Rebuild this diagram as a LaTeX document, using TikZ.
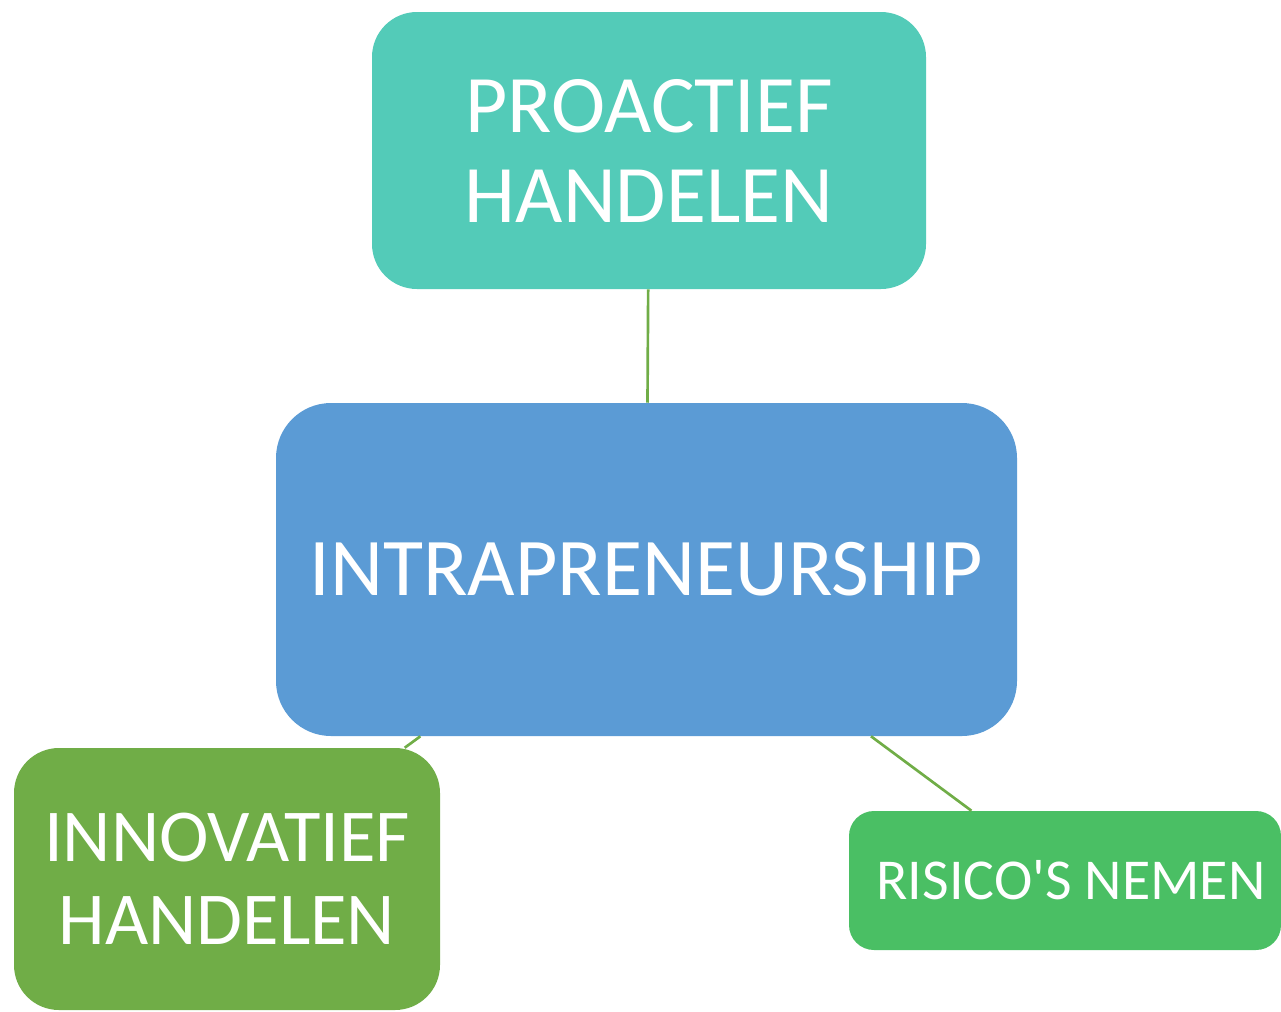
\documentclass[tikz,border=0pt]{standalone}
\usepackage{fontspec}
\setmainfont{Carlito}[Ligatures=TeXOff]
\usepackage{xcolor}
\definecolor{proteal}{HTML}{53CBB8}
\definecolor{midblue}{HTML}{5B9BD5}
\definecolor{innogreen}{HTML}{70AD47}
\definecolor{riskgreen}{HTML}{4ABF64}

\begin{document}
\begin{tikzpicture}[x=0.75pt,y=-0.75pt,
  box/.style={rectangle,text=white,align=center,inner sep=0pt},
  link/.style={draw=innogreen,line width=2pt}]
\useasboundingbox (0,0) rectangle (1281,1011);
% top
\node[box,fill=proteal,minimum width=415.5pt,minimum height=207.75pt,
      rounded corners=33.75pt,font=\fontsize{61.3}{67.5}\selectfont]
  (proactief) at (649,150.5) {PROACTIEF\\HANDELEN};
% middle
\node[box,fill=midblue,minimum width=555.75pt,minimum height=249.75pt,
      rounded corners=41.25pt,font=\fontsize{61.5}{70}\selectfont]
  (intra) at (646.5,569.5) {INTRAPRENEURSHIP};
% left
\node[box,fill=innogreen,minimum width=319.5pt,minimum height=196.5pt,
      rounded corners=33.75pt,font=\fontsize{56}{62}\selectfont]
  (innovatief) at (227,879) {INNOVATIEF\\HANDELEN};
% right
\node[box,fill=riskgreen,minimum width=324pt,minimum height=104.25pt,
      rounded corners=18.75pt,font=\fontsize{43.4}{52}\selectfont]
  (risico) at (1065,880.5) {\hspace*{9pt}RISICO'S NEMEN};
% links
\draw[link] (proactief) -- (intra);
\draw[link] (intra) -- (innovatief);
\draw[link] (intra) -- (risico);
\end{tikzpicture}
\end{document}
